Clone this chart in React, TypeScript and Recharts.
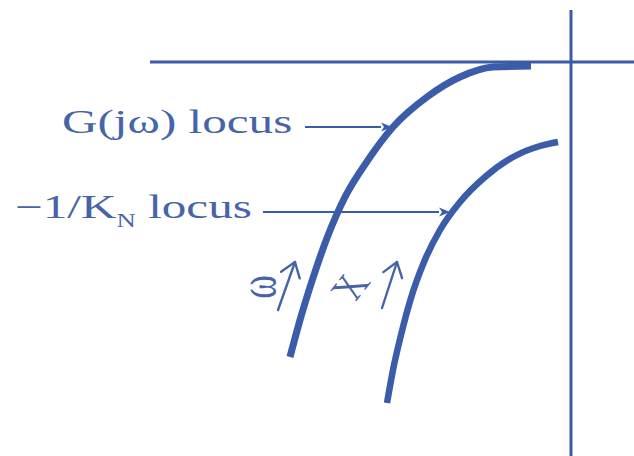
import { LineChart, Line, XAxis, YAxis, ReferenceLine, ReferenceDot } from "recharts";

// Nyquist-style sketch: G(jω) locus against the −1/K_N (describing function) locus.
// One unit on either axis is 100px, origin where the axes cross.

const gLocusX = [-2.81, -2.71, -2.59, -2.44, -2.26, -2.03, -1.78, -1.44, -1.11, -0.78, -0.4];
const gLocusY = [-2.95, -2.58, -2.19, -1.76, -1.35, -0.98, -0.65, -0.35, -0.15, -0.05, -0.04];

const kLocusX = [-1.84, -1.78, -1.7, -1.6, -1.47, -1.31, -1.11, -0.86, -0.56, -0.31, -0.13];
const kLocusY = [-3.41, -3.08, -2.73, -2.36, -2.0, -1.68, -1.4, -1.15, -0.94, -0.84, -0.8];

const gLocus = gLocusX.map((x, i) => ({ x, y: gLocusY[i] }));
const kLocus = kLocusX.map((x, i) => ({ x, y: kLocusY[i] }));

const X_DOMAIN: [number, number] = [-5.71, 0.63];
const Y_DOMAIN: [number, number] = [-3.94, 0.62];

// pointer arrows from the labels to the curves: [tailX, tailY, tipX, tipY]
const pointerArrows = [
  [-2.66, -0.65, -1.79, -0.65],
  [-3.08, -1.5, -1.21, -1.5],
];
// direction arrows for increasing ω and X
const directionArrows = [
  [-2.93, -2.48, -2.76, -2.0],
  [-1.89, -2.46, -1.74, -2.0],
];

const BLUE = "#3b5ca8";
const TEXT = "#4565a8";
const SERIF = "'Liberation Serif', 'DejaVu Serif', serif";
const STRETCH = 1.49;

type Seg = { x1?: number; y1?: number; x2?: number; y2?: number };

const filledArrow = (p: Seg) => {
  const { x1 = 0, y1 = 0, x2 = 0, y2 = 0 } = p;
  const a = Math.atan2(y2 - y1, x2 - x1);
  const len = 11;
  const w = 4.5;
  const bx = x2 - len * Math.cos(a);
  const by = y2 - len * Math.sin(a);
  const nx = -Math.sin(a) * w;
  const ny = Math.cos(a) * w;
  return (
    <g>
      <line x1={x1} y1={y1} x2={bx} y2={by} stroke={BLUE} strokeWidth={2} />
      <polygon points={`${x2},${y2} ${bx + nx},${by + ny} ${bx + 3 * Math.cos(a)},${by + 3 * Math.sin(a)} ${bx - nx},${by - ny}`} fill={BLUE} />
    </g>
  );
};

const openArrow = (p: Seg) => {
  const { x1 = 0, y1 = 0, x2 = 0, y2 = 0 } = p;
  const a = Math.atan2(y2 - y1, x2 - x1);
  const len = 17;
  const spread = 0.62;
  const w1 = [x2 - len * Math.cos(a - spread), y2 - len * Math.sin(a - spread)];
  const w2 = [x2 - len * Math.cos(a + spread), y2 - len * Math.sin(a + spread)];
  return (
    <g stroke={TEXT} strokeWidth={2.4} fill="none" strokeLinecap="round" strokeLinejoin="round">
      <line x1={x1} y1={y1} x2={x2} y2={y2} />
      <polyline points={`${w1[0]},${w1[1]} ${x2},${y2} ${w2[0]},${w2[1]}`} />
    </g>
  );
};

const label = (children: React.ReactNode, rotate = 0, size = 33, anchor: "start" | "middle" = "start") =>
  (p: { cx?: number; cy?: number }) => (
    <g transform={`translate(${p.cx},${p.cy}) scale(${STRETCH},1) rotate(${rotate})`}>
      <text x={0} y={0} fill={TEXT} fontFamily={SERIF} fontSize={size} textAnchor={anchor} dominantBaseline={rotate ? "central" : "auto"}>
        {children}
      </text>
    </g>
  );

export default function App() {
  return (
    <div style={{ position: "absolute", left: 0, top: 0, background: "#fff" }}>
      <LineChart width={634} height={456} margin={{ top: 0, right: 0, bottom: 0, left: 0 }}>
        <XAxis type="number" dataKey="x" domain={X_DOMAIN} allowDataOverflow hide />
        <YAxis type="number" dataKey="y" domain={Y_DOMAIN} allowDataOverflow hide />

        {/* real and imaginary axes */}
        <ReferenceLine segment={[{ x: -4.21, y: 0 }, { x: 0.63, y: 0 }]} stroke={BLUE} strokeWidth={3} />
        <ReferenceLine segment={[{ x: 0, y: 0.52 }, { x: 0, y: -3.94 }]} stroke={BLUE} strokeWidth={3} />

        <Line data={gLocus} dataKey="y" type="monotone" stroke={BLUE} strokeWidth={7} strokeLinecap="butt" dot={false} activeDot={false} isAnimationActive={false} />
        <Line data={kLocus} dataKey="y" type="monotone" stroke={BLUE} strokeWidth={6.5} strokeLinecap="butt" dot={false} activeDot={false} isAnimationActive={false} />

        {pointerArrows.map(([ax, ay, bx, by], i) => (
          <ReferenceLine key={`p${i}`} segment={[{ x: ax, y: ay }, { x: bx, y: by }]} shape={filledArrow} />
        ))}
        {directionArrows.map(([ax, ay, bx, by], i) => (
          <ReferenceLine key={`d${i}`} segment={[{ x: ax, y: ay }, { x: bx, y: by }]} shape={openArrow} />
        ))}

        <ReferenceDot x={-5.09} y={-0.71} r={0} shape={label("G(jω) locus")} />
        <ReferenceDot
          x={-5.56}
          y={-1.56}
          r={0}
          shape={label(
            <>
              <tspan>−1/K</tspan>
              <tspan fontSize={18} dy={9}>N</tspan>
              <tspan dy={-9}> locus</tspan>
            </>
          )}
        />
        <ReferenceDot x={-3.14} y={-2.25} r={0} shape={label("ω", -90, 36, "middle")} />
        <ReferenceDot x={-2.21} y={-2.25} r={0} shape={label("X", -62, 31, "middle")} />
      </LineChart>
    </div>
  );
}
